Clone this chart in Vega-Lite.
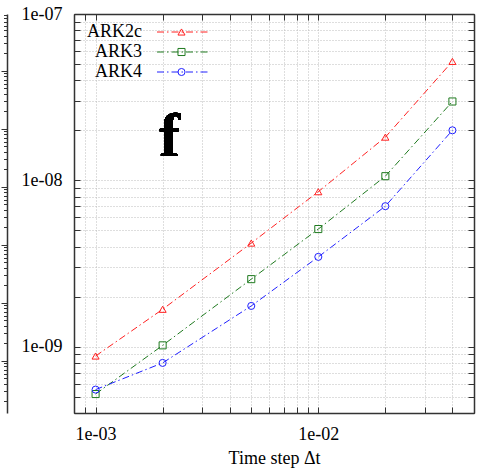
{
  "$schema": "https://vega.github.io/schema/vega-lite/v6.json",
  "width": 400,
  "height": 399,
  "autosize": {"type": "none"},
  "padding": {"left": 74, "top": 14, "right": 5, "bottom": 59},
  "background": "white",
  "config": {
    "font": "Liberation Serif",
    "view": {"stroke": null},
    "axis": {
      "labelFont": "Liberation Serif",
      "labelFontSize": 18,
      "labelColor": "black",
      "titleFont": "Liberation Serif",
      "titleFontSize": 18,
      "titleFontWeight": "normal",
      "titleColor": "black",
      "tickColor": "#333333",
      "tickSize": -6,
      "domainColor": "#333333",
      "domainWidth": 1.5,
      "gridColor": "#bdbdbd",
      "gridDash": [1, 2],
      "gridWidth": 1,
      "labelOverlap": false,
      "labelFlush": false
    },
    "legend": {
      "labelFont": "Liberation Serif",
      "labelFontSize": 18,
      "labelColor": "black",
      "padding": 0,
      "rowPadding": 2,
      "title": null
    }
  },
  "data": {
    "values": [
      {"dt": 0.001, "err": 8.8e-10, "method": "ARK2c"},
      {"dt": 0.002, "err": 1.68e-9, "method": "ARK2c"},
      {"dt": 0.005, "err": 4.2e-9, "method": "ARK2c"},
      {"dt": 0.01, "err": 8.55e-9, "method": "ARK2c"},
      {"dt": 0.02, "err": 1.82e-8, "method": "ARK2c"},
      {"dt": 0.04, "err": 5.19e-8, "method": "ARK2c"},
      {"dt": 0.001, "err": 5.2e-10, "method": "ARK3"},
      {"dt": 0.002, "err": 1.02e-9, "method": "ARK3"},
      {"dt": 0.005, "err": 2.55e-9, "method": "ARK3"},
      {"dt": 0.01, "err": 5.1e-9, "method": "ARK3"},
      {"dt": 0.02, "err": 1.06e-8, "method": "ARK3"},
      {"dt": 0.04, "err": 2.98e-8, "method": "ARK3"},
      {"dt": 0.001, "err": 5.53e-10, "method": "ARK4"},
      {"dt": 0.002, "err": 8.0e-10, "method": "ARK4"},
      {"dt": 0.005, "err": 1.76e-9, "method": "ARK4"},
      {"dt": 0.01, "err": 3.47e-9, "method": "ARK4"},
      {"dt": 0.02, "err": 7.0e-9, "method": "ARK4"},
      {"dt": 0.04, "err": 2.0e-8, "method": "ARK4"}
    ]
  },
  "layer": [
    {
      "mark": {"type": "line", "strokeWidth": 1, "strokeDash": [7, 3, 1.5, 3]},
      "encoding": {
        "x": {
          "field": "dt", "type": "quantitative",
          "scale": {"type": "log", "domain": [0.0008, 0.05], "nice": false},
          "axis": {
            "orient": "bottom",
            "title": "Time step Δt",
            "titlePadding": 6,
            "values": [0.0008, 0.0009, 0.001, 0.002, 0.003, 0.004, 0.005, 0.006, 0.007, 0.008, 0.009, 0.01, 0.02, 0.03, 0.04, 0.05],
            "labelExpr": "datum.value === 0.001 ? '1e-03' : datum.value === 0.01 ? '1e-02' : ''",
            "labelPadding": 18,
            "grid": true,
            "domain": true
          }
        },
        "y": {
          "field": "err", "type": "quantitative",
          "scale": {"type": "log", "domain": [4e-10, 1e-7], "nice": false},
          "axis": {
            "orient": "left",
            "title": null,
            "values": [4e-10, 5e-10, 6e-10, 7e-10, 8e-10, 9e-10, 1e-9, 2e-9, 3e-9, 4e-9, 5e-9, 6e-9, 7e-9, 8e-9, 9e-9, 1e-8, 2e-8, 3e-8, 4e-8, 5e-8, 6e-8, 7e-8, 8e-8, 9e-8, 1e-7],
            "labelExpr": "datum.value === 1e-9 ? '1e-09' : datum.value === 1e-8 ? '1e-08' : datum.value === 1e-7 ? '1e-07' : ''",
            "labelPadding": 18,
            "grid": true,
            "domain": true
          }
        },
        "color": {
          "field": "method", "type": "nominal",
          "scale": {"domain": ["ARK2c", "ARK3", "ARK4"], "range": ["#ff2020", "#1f7a1f", "#2020ff"]},
          "legend": {
            "orient": "none", "legendX": 100, "legendY": 9,
            "symbolType": "M-4,0H4", "symbolSize": 169,
            "symbolDash": [7, 3, 1.5, 3], "symbolStrokeWidth": 1,
            "labelAlign": "right", "labelOffset": -50
          }
        }
      }
    },
    {
      "mark": {"type": "point", "filled": false, "size": 50, "strokeWidth": 1, "opacity": 1},
      "encoding": {
        "x": {
          "field": "dt", "type": "quantitative",
          "scale": {"type": "log", "domain": [0.0008, 0.05], "nice": false},
          "axis": {
            "orient": "top", "title": null, "labels": false, "grid": false, "domain": true,
            "values": [0.0008, 0.0009, 0.001, 0.002, 0.003, 0.004, 0.005, 0.006, 0.007, 0.008, 0.009, 0.01, 0.02, 0.03, 0.04, 0.05]
          }
        },
        "y": {
          "field": "err", "type": "quantitative",
          "scale": {"type": "log", "domain": [4e-10, 1e-7], "nice": false},
          "axis": {
            "orient": "right", "title": null, "labels": false, "grid": false, "domain": true,
            "values": [4e-10, 5e-10, 6e-10, 7e-10, 8e-10, 9e-10, 1e-9, 2e-9, 3e-9, 4e-9, 5e-9, 6e-9, 7e-9, 8e-9, 9e-9, 1e-8, 2e-8, 3e-8, 4e-8, 5e-8, 6e-8, 7e-8, 8e-8, 9e-8, 1e-7]
          }
        },
        "color": {
          "field": "method", "type": "nominal",
          "scale": {"domain": ["ARK2c", "ARK3", "ARK4"], "range": ["#ff2020", "#1f7a1f", "#2020ff"]},
          "legend": null
        },
        "shape": {
          "field": "method", "type": "nominal",
          "scale": {"range": ["triangle-up", "square", "circle"]},
          "legend": {
            "orient": "none", "legendX": 98.5, "legendY": 9,
            "symbolSize": 50, "symbolStrokeWidth": 1, "labelOpacity": 0,
            "symbolFillColor": "transparent",
            "symbolStrokeColor": {"expr": "scale('color', datum.value)"}
          }
        }
      }
    },
    {
      "mark": {"type": "text", "text": "f", "font": "Liberation Serif", "fontWeight": "bold", "fontSize": 62, "align": "center", "baseline": "alphabetic", "color": "black"},
      "encoding": {
        "x": {"datum": 0.00215, "type": "quantitative", "scale": {"type": "log", "domain": [0.0008, 0.05], "nice": false}, "axis": null},
        "y": {"datum": 1.4e-8, "type": "quantitative", "scale": {"type": "log", "domain": [4e-10, 1e-7], "nice": false}, "axis": null}
      }
    },
    {
      "mark": {"type": "point", "opacity": 0},
      "encoding": {
        "y": {
          "field": "err", "type": "quantitative",
          "scale": {"type": "log", "domain": [1.253e-7, 0.9497], "nice": false},
          "axis": {
            "orient": "left", "offset": 67, "title": null, "labels": false, "grid": false,
            "domain": true, "tickSize": 3.5,
            "values": [2e-7, 3e-7, 4e-7, 5e-7, 6e-7, 7e-7, 8e-7, 9e-7, 2e-6, 3e-6, 4e-6, 5e-6, 6e-6, 7e-6, 8e-6, 9e-6, 2e-5, 3e-5, 4e-5, 5e-5, 6e-5, 7e-5, 8e-5, 9e-5, 2e-4, 3e-4, 4e-4, 5e-4, 6e-4, 7e-4, 8e-4, 9e-4, 0.002, 0.003, 0.004, 0.005, 0.006, 0.007, 0.008, 0.009, 0.02, 0.03, 0.04, 0.05, 0.06, 0.07, 0.08, 0.09, 0.2, 0.3, 0.4, 0.5, 0.6, 0.7, 0.8, 0.9]
          }
        }
      }
    },
    {
      "mark": {"type": "point", "opacity": 0},
      "encoding": {
        "y": {
          "field": "err", "type": "quantitative",
          "scale": {"type": "log", "domain": [1.253e-7, 0.9497], "nice": false},
          "axis": {
            "orient": "left", "offset": 67, "title": null, "labels": false, "grid": false,
            "domain": false, "tickSize": 6,
            "values": [1e-6, 1e-5, 1e-4, 0.001, 0.01, 0.1]
          }
        }
      }
    }
  ],
  "resolve": {
    "scale": {"y": "independent"},
    "axis": {"x": "independent", "y": "independent"}
  }
}
